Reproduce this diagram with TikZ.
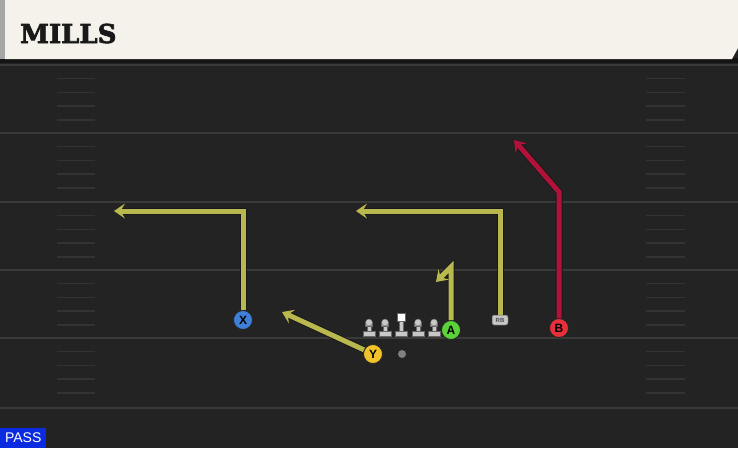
\documentclass[tikz,border=0pt]{standalone}
\usepackage{fontspec}
\newfontfamily\titlefont{DejaVu Serif}[BoldFont={DejaVu Serif Bold}, BoldFeatures={FakeBold=2.5}]
\newfontfamily\labelfont{Liberation Sans}
\usetikzlibrary{arrows.meta}

\definecolor{fieldbg}{HTML}{232323}
\definecolor{yardline}{HTML}{3A3A3A}
\definecolor{hashline}{HTML}{333333}
\definecolor{headerbg}{HTML}{F5F2EB}
\definecolor{routeolive}{HTML}{B8B84E}
\definecolor{routered}{HTML}{B0123A}
\definecolor{playblue}{HTML}{3E7FD8}
\definecolor{playyellow}{HTML}{F2C22A}
\definecolor{playgreen}{HTML}{5BD13A}
\definecolor{playred}{HTML}{E8303A}
\definecolor{passblue}{HTML}{0A2BE0}

\begin{document}
\begin{tikzpicture}[x=1pt,y=-1pt,
    route/.style={line width=5pt, draw=routeolive, line join=miter,
      -{Stealth[length=11pt,width=15pt,inset=4.5pt]},
      preaction={draw=black!90, line width=7pt, line join=miter,
        -{Stealth[length=12pt,width=17pt,inset=5pt]}}},
    redroute/.style={route, draw=routered},
    player/.style={circle, draw=black!85, line width=0.8pt, minimum size=19pt,
      inner sep=0pt, font=\labelfont\bfseries\fontsize{12}{12}\selectfont},
    lineman/.style={fill=black!22, draw=black!60, line width=0.4pt}]
    \useasboundingbox (0,0) rectangle (738,448);

    % field
    \fill[fieldbg] (0,0) rectangle (738,448);
    \foreach \y in {65,133,202,270,338,408}
        \draw[yardline, line width=2pt] (0,\y) -- (738,\y);
    \foreach \y in {65,133,202,270,338}
        \foreach \k in {1,2,3,4} {
            \draw[hashline, line width=1.5pt] (57,\y+13.7*\k) -- (95,\y+13.7*\k);
            \draw[hashline, line width=1.5pt] (646,\y+13.7*\k) -- (685,\y+13.7*\k);
        }

    % header
    \fill[black!92] (0,58) rectangle (738,63);
    \fill[headerbg] (5,0) -- (738,0) -- (738,48) -- (732,59) -- (5,59) -- cycle;
    \fill[black!35] (0,0) rectangle (5,59);
    \node[anchor=base west, inner sep=0pt, text=black!90,
          font=\titlefont\bfseries\fontsize{26}{26}\selectfont] (title) at (20,43) {MILLS};

    % offensive line and ball
    \foreach \x in {369,385,418,434} {
        \fill[lineman] (\x-6,336) rectangle (\x+6,331);
        \fill[lineman] (\x-2,331) rectangle (\x+2,324);
        \fill[lineman] (\x-3.5,326.5) rectangle (\x+3.5,323);
        \fill[lineman] (\x,322.5) circle (3.5pt);
    }
    \fill[lineman] (395,336) rectangle (407,331);
    \fill[lineman] (399,331) rectangle (403,321);
    \fill[white, draw=black!60, line width=0.4pt] (397.5,313) rectangle (405,321);
    \node[circle, fill=black!50, minimum size=8pt, inner sep=0pt] (ball) at (402,354) {};

    % players
    \node[player, fill=playblue] (X) at (243,320) {X};
    \node[player, fill=playyellow] (Y) at (373,354) {Y};
    \node[player, fill=playgreen] (A) at (451,330) {A};
    \node[player, fill=playred] (B) at (559,328) {B};
    \node[rounded corners=2pt, fill=black!22, draw=black!70, line width=0.5pt,
          minimum width=16pt, minimum height=10pt, inner sep=0pt,
          font=\labelfont\bfseries\fontsize{6}{6}\selectfont, text=black!70] (RB) at (500,320) {RB};

    % routes
    \coordinate (xcut) at (243,211);
    \coordinate (xend) at (114,211);
    \coordinate (rbcut) at (500,211);
    \coordinate (rbend) at (356,211);
    \coordinate (acut) at (451,267);
    \coordinate (aend) at (436,282);
    \coordinate (yend) at (282,312);
    \coordinate (bcut) at (559,192);
    \coordinate (bend) at (514,140);

    \draw[route] (X.north) -- (xcut) -- (xend);
    \draw[route] (RB.north) -- (rbcut) -- (rbend);
    \draw[route] (A.north) -- (acut) -- (aend);
    \draw[route] (Y) -- (yend);
    \draw[redroute] (B.north) -- (bcut) -- (bend);
    \node[player, fill=playyellow] at (Y) {Y};

    % play type
    \node[anchor=south west, fill=passblue, text=white, inner sep=0pt,
          minimum width=46pt, minimum height=20pt,
          font=\labelfont\fontsize{14}{14}\selectfont] (pass) at (0,448) {PASS};
\end{tikzpicture}
\end{document}
